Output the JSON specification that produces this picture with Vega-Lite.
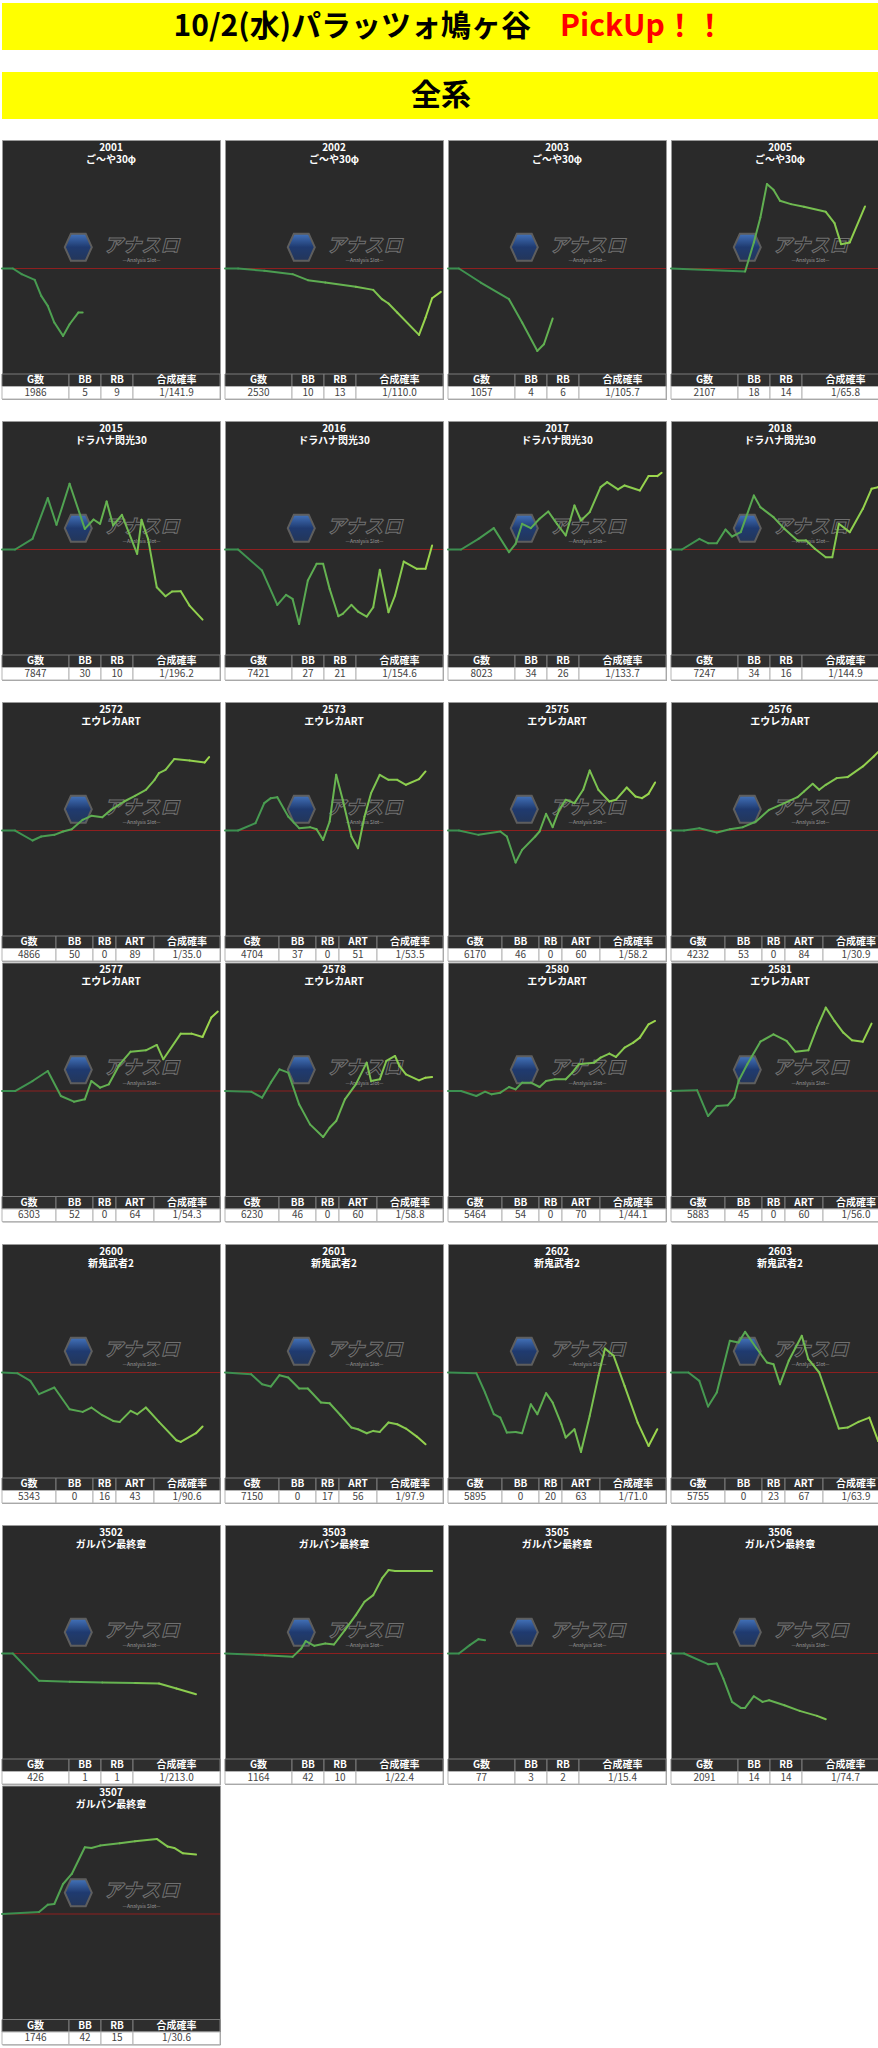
{
"$schema": "https://vega.github.io/schema/vega-lite/v6.json",
"padding": {"left": 0, "right": 0, "top": 3, "bottom": 0},
"background": "#ffffff",
"spacing": 20,
"config": {"font": "Noto Sans CJK JP", "text": {"font": "Noto Sans CJK JP"}, "view": {"stroke": null},
 "header": {"labels": false, "title": null, "labelPadding": 0, "titlePadding": 0}},
"datasets": {
"panels": [
{"id":"2001","name":"ご〜や30φ","row":1,"G数":1986,"BB":5,"RB":9,"合成確率":"1/141.9"},
{"id":"2002","name":"ご〜や30φ","row":1,"G数":2530,"BB":10,"RB":13,"合成確率":"1/110.0"},
{"id":"2003","name":"ご〜や30φ","row":1,"G数":1057,"BB":4,"RB":6,"合成確率":"1/105.7"},
{"id":"2005","name":"ご〜や30φ","row":1,"G数":2107,"BB":18,"RB":14,"合成確率":"1/65.8"},
{"id":"2015","name":"ドラハナ閃光30","row":2,"G数":7847,"BB":30,"RB":10,"合成確率":"1/196.2"},
{"id":"2016","name":"ドラハナ閃光30","row":2,"G数":7421,"BB":27,"RB":21,"合成確率":"1/154.6"},
{"id":"2017","name":"ドラハナ閃光30","row":2,"G数":8023,"BB":34,"RB":26,"合成確率":"1/133.7"},
{"id":"2018","name":"ドラハナ閃光30","row":2,"G数":7247,"BB":34,"RB":16,"合成確率":"1/144.9"},
{"id":"2572","name":"エウレカART","row":3,"G数":4866,"BB":50,"RB":0,"ART":89,"合成確率":"1/35.0"},
{"id":"2573","name":"エウレカART","row":3,"G数":4704,"BB":37,"RB":0,"ART":51,"合成確率":"1/53.5"},
{"id":"2575","name":"エウレカART","row":3,"G数":6170,"BB":46,"RB":0,"ART":60,"合成確率":"1/58.2"},
{"id":"2576","name":"エウレカART","row":3,"G数":4232,"BB":53,"RB":0,"ART":84,"合成確率":"1/30.9"},
{"id":"2577","name":"エウレカART","row":4,"G数":6303,"BB":52,"RB":0,"ART":64,"合成確率":"1/54.3"},
{"id":"2578","name":"エウレカART","row":4,"G数":6230,"BB":46,"RB":0,"ART":60,"合成確率":"1/58.8"},
{"id":"2580","name":"エウレカART","row":4,"G数":5464,"BB":54,"RB":0,"ART":70,"合成確率":"1/44.1"},
{"id":"2581","name":"エウレカART","row":4,"G数":5883,"BB":45,"RB":0,"ART":60,"合成確率":"1/56.0"},
{"id":"2600","name":"新鬼武者2","row":5,"G数":5343,"BB":0,"RB":16,"ART":43,"合成確率":"1/90.6"},
{"id":"2601","name":"新鬼武者2","row":5,"G数":7150,"BB":0,"RB":17,"ART":56,"合成確率":"1/97.9"},
{"id":"2602","name":"新鬼武者2","row":5,"G数":5895,"BB":0,"RB":20,"ART":63,"合成確率":"1/71.0"},
{"id":"2603","name":"新鬼武者2","row":5,"G数":5755,"BB":0,"RB":23,"ART":67,"合成確率":"1/63.9"},
{"id":"3502","name":"ガルパン最終章","row":6,"G数":426,"BB":1,"RB":1,"合成確率":"1/213.0"},
{"id":"3503","name":"ガルパン最終章","row":6,"G数":1164,"BB":42,"RB":10,"合成確率":"1/22.4"},
{"id":"3505","name":"ガルパン最終章","row":6,"G数":77,"BB":3,"RB":2,"合成確率":"1/15.4"},
{"id":"3506","name":"ガルパン最終章","row":6,"G数":2091,"BB":14,"RB":14,"合成確率":"1/74.7"},
{"id":"3507","name":"ガルパン最終章","row":7,"G数":1746,"BB":42,"RB":15,"合成確率":"1/30.6"}
],
"pts": [
{"id":"2001","t":0,"v":0},{"id":"2001","t":5,"v":0},{"id":"2001","t":9,"v":-226},{"id":"2001","t":15,"v":-452},{"id":"2001","t":18,"v":-1090},{"id":"2001","t":21,"v":-1488},{"id":"2001","t":24,"v":-2152},{"id":"2001","t":28,"v":-2683},{"id":"2001","t":31,"v":-2218},{"id":"2001","t":35,"v":-1753},{"id":"2001","t":37,"v":-1753},
{"id":"2002","t":0,"v":0},{"id":"2002","t":6,"v":0},{"id":"2002","t":18,"v":-93},{"id":"2002","t":31,"v":-226},{"id":"2002","t":38,"v":-465},{"id":"2002","t":46,"v":-558},{"id":"2002","t":60,"v":-730},{"id":"2002","t":68,"v":-850},{"id":"2002","t":72,"v":-1222},{"id":"2002","t":75,"v":-1394},{"id":"2002","t":79,"v":-1753},{"id":"2002","t":89,"v":-2643},{"id":"2002","t":92,"v":-1952},{"id":"2002","t":95,"v":-1182},{"id":"2002","t":99,"v":-930},
{"id":"2003","t":0,"v":0},{"id":"2003","t":5,"v":0},{"id":"2003","t":15,"v":-558},{"id":"2003","t":28,"v":-1222},{"id":"2003","t":34,"v":-2152},{"id":"2003","t":41,"v":-3280},{"id":"2003","t":44,"v":-3015},{"id":"2003","t":48,"v":-1992},
{"id":"2005","t":0,"v":0},{"id":"2005","t":34,"v":-120},{"id":"2005","t":38,"v":1036},{"id":"2005","t":41,"v":2032},{"id":"2005","t":44,"v":3360},{"id":"2005","t":47,"v":3134},{"id":"2005","t":50,"v":2696},{"id":"2005","t":55,"v":2563},{"id":"2005","t":61,"v":2457},{"id":"2005","t":71,"v":2258},{"id":"2005","t":75,"v":1806},{"id":"2005","t":78,"v":969},{"id":"2005","t":82,"v":1036},{"id":"2005","t":89,"v":2470},
{"id":"2015","t":0,"v":0},{"id":"2015","t":6,"v":0},{"id":"2015","t":14,"v":425},{"id":"2015","t":21,"v":2045},{"id":"2015","t":25,"v":983},{"id":"2015","t":31,"v":2616},{"id":"2015","t":38,"v":823},{"id":"2015","t":42,"v":1195},{"id":"2015","t":45,"v":1023},{"id":"2015","t":48,"v":1912},{"id":"2015","t":51,"v":956},{"id":"2015","t":55,"v":1381},{"id":"2015","t":62,"v":-173},{"id":"2015","t":64,"v":1182},{"id":"2015","t":67,"v":425},{"id":"2015","t":71,"v":-1501},{"id":"2015","t":75,"v":-1859},{"id":"2015","t":78,"v":-1673},{"id":"2015","t":82,"v":-1660},{"id":"2015","t":86,"v":-2231},{"id":"2015","t":92,"v":-2789},
{"id":"2016","t":0,"v":0},{"id":"2016","t":6,"v":0},{"id":"2016","t":17,"v":-837},{"id":"2016","t":24,"v":-2205},{"id":"2016","t":28,"v":-1806},{"id":"2016","t":31,"v":-1966},{"id":"2016","t":34,"v":-2962},{"id":"2016","t":38,"v":-1235},{"id":"2016","t":42,"v":-571},{"id":"2016","t":45,"v":-571},{"id":"2016","t":48,"v":-1567},{"id":"2016","t":52,"v":-2656},{"id":"2016","t":54,"v":-2563},{"id":"2016","t":58,"v":-2205},{"id":"2016","t":61,"v":-2470},{"id":"2016","t":65,"v":-2669},{"id":"2016","t":68,"v":-2297},{"id":"2016","t":71,"v":-810},{"id":"2016","t":75,"v":-2497},{"id":"2016","t":78,"v":-1833},{"id":"2016","t":82,"v":-478},{"id":"2016","t":88,"v":-770},{"id":"2016","t":92,"v":-770},{"id":"2016","t":95,"v":159},
{"id":"2017","t":0,"v":0},{"id":"2017","t":6,"v":0},{"id":"2017","t":14,"v":425},{"id":"2017","t":21,"v":850},{"id":"2017","t":28,"v":-106},{"id":"2017","t":31,"v":226},{"id":"2017","t":34,"v":1023},{"id":"2017","t":38,"v":850},{"id":"2017","t":42,"v":1222},{"id":"2017","t":46,"v":1514},{"id":"2017","t":50,"v":1023},{"id":"2017","t":54,"v":558},{"id":"2017","t":58,"v":1753},{"id":"2017","t":61,"v":1155},{"id":"2017","t":65,"v":1487},{"id":"2017","t":70,"v":2483},{"id":"2017","t":73,"v":2683},{"id":"2017","t":78,"v":2391},{"id":"2017","t":81,"v":2550},{"id":"2017","t":88,"v":2350},{"id":"2017","t":92,"v":2922},{"id":"2017","t":96,"v":2922},{"id":"2017","t":98,"v":3054},
{"id":"2018","t":0,"v":0},{"id":"2018","t":5,"v":0},{"id":"2018","t":13,"v":425},{"id":"2018","t":17,"v":252},{"id":"2018","t":21,"v":252},{"id":"2018","t":25,"v":797},{"id":"2018","t":28,"v":518},{"id":"2018","t":32,"v":691},{"id":"2018","t":38,"v":2151},{"id":"2018","t":41,"v":1687},{"id":"2018","t":47,"v":1288},{"id":"2018","t":52,"v":823},{"id":"2018","t":58,"v":359},{"id":"2018","t":62,"v":359},{"id":"2018","t":66,"v":27},{"id":"2018","t":71,"v":-305},{"id":"2018","t":74,"v":-305},{"id":"2018","t":77,"v":1023},{"id":"2018","t":82,"v":691},{"id":"2018","t":88,"v":1620},{"id":"2018","t":92,"v":2417},{"id":"2018","t":95,"v":2483},{"id":"2018","t":98,"v":2258},
{"id":"2572","t":0,"v":0},{"id":"2572","t":6,"v":0},{"id":"2572","t":14,"v":-398},{"id":"2572","t":18,"v":-239},{"id":"2572","t":24,"v":-173},{"id":"2572","t":28,"v":-40},{"id":"2572","t":32,"v":53},{"id":"2572","t":37,"v":425},{"id":"2572","t":41,"v":584},{"id":"2572","t":46,"v":531},{"id":"2572","t":50,"v":823},{"id":"2572","t":56,"v":1155},{"id":"2572","t":61,"v":1381},{"id":"2572","t":66,"v":1620},{"id":"2572","t":70,"v":2019},{"id":"2572","t":72,"v":2284},{"id":"2572","t":75,"v":2417},{"id":"2572","t":79,"v":2842},{"id":"2572","t":86,"v":2789},{"id":"2572","t":93,"v":2709},{"id":"2572","t":95,"v":2922},
{"id":"2573","t":0,"v":0},{"id":"2573","t":6,"v":0},{"id":"2573","t":14,"v":292},{"id":"2573","t":18,"v":1089},{"id":"2573","t":21,"v":1288},{"id":"2573","t":24,"v":1328},{"id":"2573","t":29,"v":558},{"id":"2573","t":34,"v":93},{"id":"2573","t":39,"v":133},{"id":"2573","t":42,"v":53},{"id":"2573","t":45,"v":-372},{"id":"2573","t":48,"v":359},{"id":"2573","t":51,"v":2218},{"id":"2573","t":54,"v":1222},{"id":"2573","t":58,"v":-239},{"id":"2573","t":61,"v":-704},{"id":"2573","t":64,"v":558},{"id":"2573","t":67,"v":1487},{"id":"2573","t":71,"v":2218},{"id":"2573","t":75,"v":2019},{"id":"2573","t":79,"v":2019},{"id":"2573","t":83,"v":1820},{"id":"2573","t":89,"v":2045},{"id":"2573","t":92,"v":2350},
{"id":"2575","t":0,"v":0},{"id":"2575","t":5,"v":0},{"id":"2575","t":14,"v":-173},{"id":"2575","t":24,"v":-40},{"id":"2575","t":27,"v":-239},{"id":"2575","t":31,"v":-1275},{"id":"2575","t":34,"v":-770},{"id":"2575","t":40,"v":-239},{"id":"2575","t":42,"v":-40},{"id":"2575","t":45,"v":664},{"id":"2575","t":48,"v":133},{"id":"2575","t":51,"v":823},{"id":"2575","t":54,"v":1222},{"id":"2575","t":58,"v":1089},{"id":"2575","t":62,"v":1620},{"id":"2575","t":65,"v":2390},{"id":"2575","t":69,"v":1620},{"id":"2575","t":74,"v":1155},{"id":"2575","t":77,"v":1222},{"id":"2575","t":82,"v":1713},{"id":"2575","t":86,"v":1355},{"id":"2575","t":89,"v":1288},{"id":"2575","t":92,"v":1461},{"id":"2575","t":95,"v":1912},
{"id":"2576","t":0,"v":0},{"id":"2576","t":6,"v":0},{"id":"2576","t":13,"v":93},{"id":"2576","t":21,"v":-80},{"id":"2576","t":27,"v":53},{"id":"2576","t":33,"v":133},{"id":"2576","t":39,"v":359},{"id":"2576","t":45,"v":823},{"id":"2576","t":52,"v":1089},{"id":"2576","t":58,"v":1328},{"id":"2576","t":61,"v":1554},{"id":"2576","t":65,"v":1859},{"id":"2576","t":68,"v":1620},{"id":"2576","t":71,"v":1820},{"id":"2576","t":76,"v":2085},{"id":"2576","t":81,"v":2125},{"id":"2576","t":88,"v":2550},{"id":"2576","t":93,"v":2948},{"id":"2576","t":96,"v":3214},{"id":"2576","t":98,"v":3280},
{"id":"2577","t":0,"v":0},{"id":"2577","t":6,"v":0},{"id":"2577","t":14,"v":398},{"id":"2577","t":21,"v":797},{"id":"2577","t":27,"v":-199},{"id":"2577","t":33,"v":-425},{"id":"2577","t":38,"v":-332},{"id":"2577","t":41,"v":398},{"id":"2577","t":45,"v":133},{"id":"2577","t":49,"v":266},{"id":"2577","t":54,"v":1062},{"id":"2577","t":59,"v":1567},{"id":"2577","t":66,"v":1620},{"id":"2577","t":71,"v":1833},{"id":"2577","t":74,"v":1262},{"id":"2577","t":82,"v":2284},{"id":"2577","t":87,"v":2284},{"id":"2577","t":92,"v":2151},{"id":"2577","t":96,"v":2922},{"id":"2577","t":99,"v":3161},
{"id":"2578","t":0,"v":0},{"id":"2578","t":12,"v":-27},{"id":"2578","t":17,"v":-266},{"id":"2578","t":21,"v":332},{"id":"2578","t":25,"v":863},{"id":"2578","t":29,"v":730},{"id":"2578","t":34,"v":-531},{"id":"2578","t":39,"v":-1328},{"id":"2578","t":45,"v":-1833},{"id":"2578","t":48,"v":-1461},{"id":"2578","t":51,"v":-1195},{"id":"2578","t":55,"v":-332},{"id":"2578","t":60,"v":266},{"id":"2578","t":65,"v":1129},{"id":"2578","t":67,"v":398},{"id":"2578","t":71,"v":465},{"id":"2578","t":74,"v":1195},{"id":"2578","t":78,"v":1394},{"id":"2578","t":80,"v":996},{"id":"2578","t":83,"v":664},{"id":"2578","t":89,"v":425},{"id":"2578","t":92,"v":531},{"id":"2578","t":95,"v":558},
{"id":"2580","t":0,"v":0},{"id":"2580","t":6,"v":0},{"id":"2580","t":13,"v":-199},{"id":"2580","t":17,"v":-27},{"id":"2580","t":20,"v":-133},{"id":"2580","t":24,"v":-66},{"id":"2580","t":28,"v":159},{"id":"2580","t":31,"v":66},{"id":"2580","t":34,"v":332},{"id":"2580","t":38,"v":332},{"id":"2580","t":42,"v":159},{"id":"2580","t":45,"v":398},{"id":"2580","t":49,"v":465},{"id":"2580","t":54,"v":465},{"id":"2580","t":57,"v":730},{"id":"2580","t":60,"v":1062},{"id":"2580","t":67,"v":1129},{"id":"2580","t":70,"v":1328},{"id":"2580","t":74,"v":1487},{"id":"2580","t":77,"v":1355},{"id":"2580","t":81,"v":1727},{"id":"2580","t":85,"v":1926},{"id":"2580","t":88,"v":2125},{"id":"2580","t":92,"v":2656},{"id":"2580","t":95,"v":2789},
{"id":"2581","t":0,"v":0},{"id":"2581","t":12,"v":27},{"id":"2581","t":17,"v":-996},{"id":"2581","t":21,"v":-598},{"id":"2581","t":26,"v":-571},{"id":"2581","t":29,"v":-266},{"id":"2581","t":31,"v":398},{"id":"2581","t":35,"v":1062},{"id":"2581","t":41,"v":1965},{"id":"2581","t":47,"v":2258},{"id":"2581","t":53,"v":1992},{"id":"2581","t":57,"v":1567},{"id":"2581","t":63,"v":1620},{"id":"2581","t":67,"v":2523},{"id":"2581","t":71,"v":3320},{"id":"2581","t":75,"v":2789},{"id":"2581","t":79,"v":2324},{"id":"2581","t":83,"v":2019},{"id":"2581","t":88,"v":1965},{"id":"2581","t":92,"v":2683},
{"id":"2600","t":0,"v":0},{"id":"2600","t":7,"v":-27},{"id":"2600","t":13,"v":-332},{"id":"2600","t":17,"v":-863},{"id":"2600","t":24,"v":-598},{"id":"2600","t":31,"v":-1461},{"id":"2600","t":37,"v":-1567},{"id":"2600","t":41,"v":-1394},{"id":"2600","t":46,"v":-1700},{"id":"2600","t":51,"v":-1926},{"id":"2600","t":54,"v":-1966},{"id":"2600","t":59,"v":-1527},{"id":"2600","t":62,"v":-1660},{"id":"2600","t":66,"v":-1394},{"id":"2600","t":72,"v":-1966},{"id":"2600","t":80,"v":-2696},{"id":"2600","t":82,"v":-2762},{"id":"2600","t":89,"v":-2417},{"id":"2600","t":92,"v":-2151},
{"id":"2601","t":0,"v":0},{"id":"2601","t":12,"v":-66},{"id":"2601","t":17,"v":-465},{"id":"2601","t":21,"v":-558},{"id":"2601","t":25,"v":-106},{"id":"2601","t":29,"v":-199},{"id":"2601","t":34,"v":-637},{"id":"2601","t":38,"v":-637},{"id":"2601","t":44,"v":-1195},{"id":"2601","t":48,"v":-1222},{"id":"2601","t":53,"v":-1700},{"id":"2601","t":58,"v":-2191},{"id":"2601","t":61,"v":-2258},{"id":"2601","t":65,"v":-2417},{"id":"2601","t":68,"v":-2324},{"id":"2601","t":71,"v":-2364},{"id":"2601","t":75,"v":-1992},{"id":"2601","t":79,"v":-2059},{"id":"2601","t":83,"v":-2231},{"id":"2601","t":88,"v":-2550},{"id":"2601","t":92,"v":-2855},
{"id":"2602","t":0,"v":0},{"id":"2602","t":13,"v":-27},{"id":"2602","t":17,"v":-797},{"id":"2602","t":21,"v":-1660},{"id":"2602","t":24,"v":-1793},{"id":"2602","t":27,"v":-2391},{"id":"2602","t":31,"v":-2364},{"id":"2602","t":34,"v":-2417},{"id":"2602","t":38,"v":-1262},{"id":"2602","t":41,"v":-1660},{"id":"2602","t":45,"v":-823},{"id":"2602","t":48,"v":-1195},{"id":"2602","t":52,"v":-2059},{"id":"2602","t":54,"v":-2590},{"id":"2602","t":58,"v":-2258},{"id":"2602","t":61,"v":-3161},{"id":"2602","t":65,"v":-1727},{"id":"2602","t":69,"v":-133},{"id":"2602","t":72,"v":956},{"id":"2602","t":76,"v":664},{"id":"2602","t":81,"v":-531},{"id":"2602","t":87,"v":-1992},{"id":"2602","t":92,"v":-2922},{"id":"2602","t":96,"v":-2258},
{"id":"2603","t":0,"v":0},{"id":"2603","t":8,"v":0},{"id":"2603","t":13,"v":-332},{"id":"2603","t":17,"v":-1355},{"id":"2603","t":21,"v":-797},{"id":"2603","t":27,"v":1262},{"id":"2603","t":31,"v":1195},{"id":"2603","t":34,"v":1620},{"id":"2603","t":39,"v":996},{"id":"2603","t":44,"v":398},{"id":"2603","t":47,"v":332},{"id":"2603","t":50,"v":-465},{"id":"2603","t":54,"v":465},{"id":"2603","t":60,"v":1461},{"id":"2603","t":63,"v":531},{"id":"2603","t":68,"v":0},{"id":"2603","t":77,"v":-2231},{"id":"2603","t":81,"v":-2191},{"id":"2603","t":86,"v":-1966},{"id":"2603","t":91,"v":-1793},{"id":"2603","t":95,"v":-2722},{"id":"2603","t":98,"v":-2324},
{"id":"3502","t":0,"v":0},{"id":"3502","t":5,"v":0},{"id":"3502","t":17,"v":-1089},{"id":"3502","t":31,"v":-1129},{"id":"3502","t":46,"v":-1155},{"id":"3502","t":61,"v":-1169},{"id":"3502","t":72,"v":-1195},{"id":"3502","t":80,"v":-1394},{"id":"3502","t":89,"v":-1620},
{"id":"3503","t":0,"v":0},{"id":"3503","t":18,"v":-66},{"id":"3503","t":31,"v":-133},{"id":"3503","t":35,"v":199},{"id":"3503","t":37,"v":491},{"id":"3503","t":41,"v":305},{"id":"3503","t":46,"v":398},{"id":"3503","t":50,"v":359},{"id":"3503","t":55,"v":929},{"id":"3503","t":60,"v":1527},{"id":"3503","t":64,"v":2059},{"id":"3503","t":68,"v":2324},{"id":"3503","t":72,"v":2988},{"id":"3503","t":75,"v":3320},{"id":"3503","t":78,"v":3280},{"id":"3503","t":95,"v":3280},
{"id":"3505","t":0,"v":0},{"id":"3505","t":5,"v":0},{"id":"3505","t":10,"v":332},{"id":"3505","t":14,"v":571},{"id":"3505","t":17,"v":531},
{"id":"3506","t":0,"v":0},{"id":"3506","t":6,"v":0},{"id":"3506","t":17,"v":-425},{"id":"3506","t":21,"v":-398},{"id":"3506","t":24,"v":-996},{"id":"3506","t":28,"v":-1926},{"id":"3506","t":32,"v":-2165},{"id":"3506","t":34,"v":-2165},{"id":"3506","t":38,"v":-1700},{"id":"3506","t":42,"v":-1926},{"id":"3506","t":45,"v":-1859},{"id":"3506","t":52,"v":-2059},{"id":"3506","t":59,"v":-2284},{"id":"3506","t":67,"v":-2483},{"id":"3506","t":71,"v":-2616},
{"id":"3507","t":0,"v":0},{"id":"3507","t":17,"v":80},{"id":"3507","t":21,"v":372},{"id":"3507","t":24,"v":398},{"id":"3507","t":28,"v":1195},{"id":"3507","t":32,"v":1594},{"id":"3507","t":38,"v":2656},{"id":"3507","t":41,"v":2630},{"id":"3507","t":45,"v":2723},{"id":"3507","t":54,"v":2815},{"id":"3507","t":61,"v":2895},{"id":"3507","t":71,"v":2988},{"id":"3507","t":76,"v":2683},{"id":"3507","t":79,"v":2630},{"id":"3507","t":83,"v":2417},{"id":"3507","t":89,"v":2364}
]
},
"vconcat": [
{"spacing": 22, "vconcat": [
{"width": 878, "height": 47, "view": {"fill": "#ffff00", "stroke": null},
 "data": {"values": [{"a": "10/2(水)パラッツォ鳩ヶ谷", "b": "PickUp！！"}]},
 "layer": [
  {"mark": {"type": "text", "align": "right", "baseline": "middle", "dx": 90, "fontSize": 30, "fontWeight": "bold", "fill": "#000000"}, "encoding": {"text": {"field": "a", "type": "nominal"}}},
  {"mark": {"type": "text", "align": "left", "baseline": "middle", "dx": 119, "fontSize": 30, "fontWeight": "bold", "fill": "#ff0000"}, "encoding": {"text": {"field": "b", "type": "nominal"}}}
 ]},
{"width": 878, "height": 47, "view": {"fill": "#ffff00", "stroke": null},
 "data": {"values": [{"a": "全系"}]},
 "mark": {"type": "text", "baseline": "middle", "fontSize": 30, "fontWeight": "bold", "fill": "#000000"},
 "encoding": {"text": {"field": "a", "type": "nominal"}}}
]},
{"data": {"name": "pts"},
 "transform": [{"lookup": "id", "from": {"data": {"name": "panels"}, "key": "id", "fields": ["name", "row", "G数", "BB", "RB", "ART", "合成確率"]}}, {"filter": "datum.row == 1"}, {"window": [{"op": "lead", "field": "t", "as": "t2"}, {"op": "lead", "field": "v", "as": "v2"}], "groupby": ["id"], "sort": [{"field": "t"}]}],
 "facet": {"column": {"field": "id", "type": "nominal", "title": null, "header": {"labels": false, "title": null}}}, "spacing": 2,
 "spec": {"width": 218, "height": 259, "view": {"fill": "#2a2a2a", "stroke": "#9a9a9a"}, "resolve": {"scale": {"x": "independent"}},
  "layer": [
   {"transform": [{"filter": "datum.t == 0"}], "mark": {"type": "point", "shape": "M-1,0L-0.55,-1L0.55,-1L1,0L0.55,1L-0.55,1Z", "size": 729, "filled": true, "fill": {"gradient": "linear", "x1": 0, "y1": 0, "x2": 0, "y2": 1, "stops": [{"offset": 0, "color": "#4a86e0"}, {"offset": 0.5, "color": "#1d3f82"}, {"offset": 1, "color": "#233a66"}]}, "stroke": "#6c6c6c", "strokeWidth": 2, "opacity": 0.8}, "encoding": {"x": {"datum": 35, "type": "quantitative", "scale": {"domain": [0, 100], "nice": false, "zero": false}, "axis": null}, "y": {"datum": 850, "type": "quantitative", "scale": {"domain": [-5194, 5115], "nice": false, "zero": false}, "axis": null}}},
   {"transform": [{"filter": "datum.t == 0"}], "mark": {"type": "text", "text": "アナスロ", "fontSize": 19, "fontWeight": "bold", "fontStyle": "italic", "fill": "#242424", "stroke": "#707070", "strokeWidth": 1}, "encoding": {"x": {"datum": 64, "type": "quantitative", "scale": {"domain": [0, 100], "nice": false, "zero": false}, "axis": null}, "y": {"datum": 900, "type": "quantitative", "scale": {"domain": [-5194, 5115], "nice": false, "zero": false}, "axis": null}}},
   {"transform": [{"filter": "datum.t == 0"}], "mark": {"type": "text", "text": "—Analysis Slot—", "fontSize": 5, "fill": "#9a9a9a"}, "encoding": {"x": {"datum": 64, "type": "quantitative", "scale": {"domain": [0, 100], "nice": false, "zero": false}, "axis": null}, "y": {"datum": 330, "type": "quantitative", "scale": {"domain": [-5194, 5115], "nice": false, "zero": false}, "axis": null}}},
   {"transform": [{"filter": "datum.t == 0"}], "mark": {"type": "rule", "color": "#8e1f1f", "strokeWidth": 1}, "encoding": {"y": {"datum": 0, "type": "quantitative", "scale": {"domain": [-5194, 5115], "nice": false, "zero": false}, "axis": null}}},
   {"transform": [{"filter": "datum.t2 != null"}], "mark": {"type": "rule", "strokeWidth": 2, "strokeCap": "round"}, "encoding": {"x": {"field": "t", "type": "quantitative", "scale": {"domain": [0, 100], "nice": false, "zero": false}, "axis": null}, "x2": {"field": "t2"}, "y": {"field": "v", "type": "quantitative", "scale": {"domain": [-5194, 5115], "nice": false, "zero": false}, "axis": {"values": [-4000, -3000, -2000, -1000, 0, 1000, 2000, 3000, 4000], "grid": true, "gridColor": "#474747", "labels": false, "ticks": false, "domain": false, "title": null}}, "y2": {"field": "v2"}, "color": {"field": "t", "type": "quantitative", "scale": {"domain": [0, 100], "range": ["#3b8f50", "#a6dc4c"]}, "legend": null}}},
   {"transform": [{"filter": "datum.t == 0"}], "mark": {"type": "text", "fill": "#ffffff", "fontSize": 10, "fontWeight": "bold"}, "encoding": {"x": {"datum": 50, "type": "quantitative", "scale": {"domain": [0, 100], "nice": false, "zero": false}, "axis": null}, "y": {"datum": 4797, "type": "quantitative", "scale": {"domain": [-5194, 5115], "nice": false, "zero": false}, "axis": null}, "text": {"field": "id", "type": "nominal"}}},
   {"transform": [{"filter": "datum.t == 0"}], "mark": {"type": "text", "fill": "#ffffff", "fontSize": 10, "fontWeight": "bold"}, "encoding": {"x": {"datum": 50, "type": "quantitative", "scale": {"domain": [0, 100], "nice": false, "zero": false}, "axis": null}, "y": {"datum": 4319, "type": "quantitative", "scale": {"domain": [-5194, 5115], "nice": false, "zero": false}, "axis": null}, "text": {"field": "name", "type": "nominal"}}},
   {"transform": [{"filter": "datum.t == 0"}, {"fold": ["G数", "BB", "RB", "合成確率"]}, {"calculate": "indexof(['G数','BB','RB','合成確率'], datum.key)", "as": "i"}, {"calculate": "datum.i + 1", "as": "i2"}], "mark": {"type": "rect", "fill": "#2e2e2e", "stroke": "#7a7a7a", "strokeWidth": 1}, "encoding": {"x": {"field": "i", "type": "quantitative", "scale": {"domain": [0, 1, 2, 3, 4], "range": [0, 67, 99, 131, 218], "nice": false, "zero": false}, "axis": null}, "x2": {"field": "i2"}, "y": {"datum": -4199, "type": "quantitative", "scale": {"domain": [-5194, 5115], "nice": false, "zero": false}, "axis": null}, "y2": {"datum": -4696}}},
   {"transform": [{"filter": "datum.t == 0"}, {"fold": ["G数", "BB", "RB", "合成確率"]}, {"calculate": "indexof(['G数','BB','RB','合成確率'], datum.key)", "as": "i"}, {"calculate": "datum.i + 1", "as": "i2"}], "mark": {"type": "rect", "fill": "#ffffff", "stroke": "#b5b5b5", "strokeWidth": 1}, "encoding": {"x": {"field": "i", "type": "quantitative", "scale": {"domain": [0, 1, 2, 3, 4], "range": [0, 67, 99, 131, 218], "nice": false, "zero": false}, "axis": null}, "x2": {"field": "i2"}, "y": {"datum": -4696, "type": "quantitative", "scale": {"domain": [-5194, 5115], "nice": false, "zero": false}, "axis": null}, "y2": {"datum": -5194}}},
   {"transform": [{"filter": "datum.t == 0"}, {"fold": ["G数", "BB", "RB", "合成確率"]}, {"calculate": "indexof(['G数','BB','RB','合成確率'], datum.key) + 0.5", "as": "im"}], "mark": {"type": "text", "fill": "#ffffff", "fontSize": 10, "fontWeight": "bold"}, "encoding": {"x": {"field": "im", "type": "quantitative", "scale": {"domain": [0, 1, 2, 3, 4], "range": [0, 67, 99, 131, 218], "nice": false, "zero": false}, "axis": null}, "y": {"datum": -4448, "type": "quantitative", "scale": {"domain": [-5194, 5115], "nice": false, "zero": false}, "axis": null}, "text": {"field": "key", "type": "nominal"}}},
   {"transform": [{"filter": "datum.t == 0"}, {"fold": ["G数", "BB", "RB", "合成確率"]}, {"calculate": "indexof(['G数','BB','RB','合成確率'], datum.key) + 0.5", "as": "im"}], "mark": {"type": "text", "fill": "#444444", "fontSize": 10}, "encoding": {"x": {"field": "im", "type": "quantitative", "scale": {"domain": [0, 1, 2, 3, 4], "range": [0, 67, 99, 131, 218], "nice": false, "zero": false}, "axis": null}, "y": {"datum": -4945, "type": "quantitative", "scale": {"domain": [-5194, 5115], "nice": false, "zero": false}, "axis": null}, "text": {"field": "value", "type": "nominal"}}}
  ]}},
{"data": {"name": "pts"},
 "transform": [{"lookup": "id", "from": {"data": {"name": "panels"}, "key": "id", "fields": ["name", "row", "G数", "BB", "RB", "ART", "合成確率"]}}, {"filter": "datum.row == 2"}, {"window": [{"op": "lead", "field": "t", "as": "t2"}, {"op": "lead", "field": "v", "as": "v2"}], "groupby": ["id"], "sort": [{"field": "t"}]}],
 "facet": {"column": {"field": "id", "type": "nominal", "title": null, "header": {"labels": false, "title": null}}}, "spacing": 2,
 "spec": {"width": 218, "height": 259, "view": {"fill": "#2a2a2a", "stroke": "#9a9a9a"}, "resolve": {"scale": {"x": "independent"}},
  "layer": [
   {"transform": [{"filter": "datum.t == 0"}], "mark": {"type": "point", "shape": "M-1,0L-0.55,-1L0.55,-1L1,0L0.55,1L-0.55,1Z", "size": 729, "filled": true, "fill": {"gradient": "linear", "x1": 0, "y1": 0, "x2": 0, "y2": 1, "stops": [{"offset": 0, "color": "#4a86e0"}, {"offset": 0.5, "color": "#1d3f82"}, {"offset": 1, "color": "#233a66"}]}, "stroke": "#6c6c6c", "strokeWidth": 2, "opacity": 0.8}, "encoding": {"x": {"datum": 35, "type": "quantitative", "scale": {"domain": [0, 100], "nice": false, "zero": false}, "axis": null}, "y": {"datum": 850, "type": "quantitative", "scale": {"domain": [-5194, 5115], "nice": false, "zero": false}, "axis": null}}},
   {"transform": [{"filter": "datum.t == 0"}], "mark": {"type": "text", "text": "アナスロ", "fontSize": 19, "fontWeight": "bold", "fontStyle": "italic", "fill": "#242424", "stroke": "#707070", "strokeWidth": 1}, "encoding": {"x": {"datum": 64, "type": "quantitative", "scale": {"domain": [0, 100], "nice": false, "zero": false}, "axis": null}, "y": {"datum": 900, "type": "quantitative", "scale": {"domain": [-5194, 5115], "nice": false, "zero": false}, "axis": null}}},
   {"transform": [{"filter": "datum.t == 0"}], "mark": {"type": "text", "text": "—Analysis Slot—", "fontSize": 5, "fill": "#9a9a9a"}, "encoding": {"x": {"datum": 64, "type": "quantitative", "scale": {"domain": [0, 100], "nice": false, "zero": false}, "axis": null}, "y": {"datum": 330, "type": "quantitative", "scale": {"domain": [-5194, 5115], "nice": false, "zero": false}, "axis": null}}},
   {"transform": [{"filter": "datum.t == 0"}], "mark": {"type": "rule", "color": "#8e1f1f", "strokeWidth": 1}, "encoding": {"y": {"datum": 0, "type": "quantitative", "scale": {"domain": [-5194, 5115], "nice": false, "zero": false}, "axis": null}}},
   {"transform": [{"filter": "datum.t2 != null"}], "mark": {"type": "rule", "strokeWidth": 2, "strokeCap": "round"}, "encoding": {"x": {"field": "t", "type": "quantitative", "scale": {"domain": [0, 100], "nice": false, "zero": false}, "axis": null}, "x2": {"field": "t2"}, "y": {"field": "v", "type": "quantitative", "scale": {"domain": [-5194, 5115], "nice": false, "zero": false}, "axis": {"values": [-4000, -3000, -2000, -1000, 0, 1000, 2000, 3000, 4000], "grid": true, "gridColor": "#474747", "labels": false, "ticks": false, "domain": false, "title": null}}, "y2": {"field": "v2"}, "color": {"field": "t", "type": "quantitative", "scale": {"domain": [0, 100], "range": ["#3b8f50", "#a6dc4c"]}, "legend": null}}},
   {"transform": [{"filter": "datum.t == 0"}], "mark": {"type": "text", "fill": "#ffffff", "fontSize": 10, "fontWeight": "bold"}, "encoding": {"x": {"datum": 50, "type": "quantitative", "scale": {"domain": [0, 100], "nice": false, "zero": false}, "axis": null}, "y": {"datum": 4797, "type": "quantitative", "scale": {"domain": [-5194, 5115], "nice": false, "zero": false}, "axis": null}, "text": {"field": "id", "type": "nominal"}}},
   {"transform": [{"filter": "datum.t == 0"}], "mark": {"type": "text", "fill": "#ffffff", "fontSize": 10, "fontWeight": "bold"}, "encoding": {"x": {"datum": 50, "type": "quantitative", "scale": {"domain": [0, 100], "nice": false, "zero": false}, "axis": null}, "y": {"datum": 4319, "type": "quantitative", "scale": {"domain": [-5194, 5115], "nice": false, "zero": false}, "axis": null}, "text": {"field": "name", "type": "nominal"}}},
   {"transform": [{"filter": "datum.t == 0"}, {"fold": ["G数", "BB", "RB", "合成確率"]}, {"calculate": "indexof(['G数','BB','RB','合成確率'], datum.key)", "as": "i"}, {"calculate": "datum.i + 1", "as": "i2"}], "mark": {"type": "rect", "fill": "#2e2e2e", "stroke": "#7a7a7a", "strokeWidth": 1}, "encoding": {"x": {"field": "i", "type": "quantitative", "scale": {"domain": [0, 1, 2, 3, 4], "range": [0, 67, 99, 131, 218], "nice": false, "zero": false}, "axis": null}, "x2": {"field": "i2"}, "y": {"datum": -4199, "type": "quantitative", "scale": {"domain": [-5194, 5115], "nice": false, "zero": false}, "axis": null}, "y2": {"datum": -4696}}},
   {"transform": [{"filter": "datum.t == 0"}, {"fold": ["G数", "BB", "RB", "合成確率"]}, {"calculate": "indexof(['G数','BB','RB','合成確率'], datum.key)", "as": "i"}, {"calculate": "datum.i + 1", "as": "i2"}], "mark": {"type": "rect", "fill": "#ffffff", "stroke": "#b5b5b5", "strokeWidth": 1}, "encoding": {"x": {"field": "i", "type": "quantitative", "scale": {"domain": [0, 1, 2, 3, 4], "range": [0, 67, 99, 131, 218], "nice": false, "zero": false}, "axis": null}, "x2": {"field": "i2"}, "y": {"datum": -4696, "type": "quantitative", "scale": {"domain": [-5194, 5115], "nice": false, "zero": false}, "axis": null}, "y2": {"datum": -5194}}},
   {"transform": [{"filter": "datum.t == 0"}, {"fold": ["G数", "BB", "RB", "合成確率"]}, {"calculate": "indexof(['G数','BB','RB','合成確率'], datum.key) + 0.5", "as": "im"}], "mark": {"type": "text", "fill": "#ffffff", "fontSize": 10, "fontWeight": "bold"}, "encoding": {"x": {"field": "im", "type": "quantitative", "scale": {"domain": [0, 1, 2, 3, 4], "range": [0, 67, 99, 131, 218], "nice": false, "zero": false}, "axis": null}, "y": {"datum": -4448, "type": "quantitative", "scale": {"domain": [-5194, 5115], "nice": false, "zero": false}, "axis": null}, "text": {"field": "key", "type": "nominal"}}},
   {"transform": [{"filter": "datum.t == 0"}, {"fold": ["G数", "BB", "RB", "合成確率"]}, {"calculate": "indexof(['G数','BB','RB','合成確率'], datum.key) + 0.5", "as": "im"}], "mark": {"type": "text", "fill": "#444444", "fontSize": 10}, "encoding": {"x": {"field": "im", "type": "quantitative", "scale": {"domain": [0, 1, 2, 3, 4], "range": [0, 67, 99, 131, 218], "nice": false, "zero": false}, "axis": null}, "y": {"datum": -4945, "type": "quantitative", "scale": {"domain": [-5194, 5115], "nice": false, "zero": false}, "axis": null}, "text": {"field": "value", "type": "nominal"}}}
  ]}},
{"spacing": -0.5, "vconcat": [
{"data": {"name": "pts"},
 "transform": [{"lookup": "id", "from": {"data": {"name": "panels"}, "key": "id", "fields": ["name", "row", "G数", "BB", "RB", "ART", "合成確率"]}}, {"filter": "datum.row == 3"}, {"window": [{"op": "lead", "field": "t", "as": "t2"}, {"op": "lead", "field": "v", "as": "v2"}], "groupby": ["id"], "sort": [{"field": "t"}]}],
 "facet": {"column": {"field": "id", "type": "nominal", "title": null, "header": {"labels": false, "title": null}}}, "spacing": 2,
 "spec": {"width": 218, "height": 259, "view": {"fill": "#2a2a2a", "stroke": "#9a9a9a"}, "resolve": {"scale": {"x": "independent"}},
  "layer": [
   {"transform": [{"filter": "datum.t == 0"}], "mark": {"type": "point", "shape": "M-1,0L-0.55,-1L0.55,-1L1,0L0.55,1L-0.55,1Z", "size": 729, "filled": true, "fill": {"gradient": "linear", "x1": 0, "y1": 0, "x2": 0, "y2": 1, "stops": [{"offset": 0, "color": "#4a86e0"}, {"offset": 0.5, "color": "#1d3f82"}, {"offset": 1, "color": "#233a66"}]}, "stroke": "#6c6c6c", "strokeWidth": 2, "opacity": 0.8}, "encoding": {"x": {"datum": 35, "type": "quantitative", "scale": {"domain": [0, 100], "nice": false, "zero": false}, "axis": null}, "y": {"datum": 850, "type": "quantitative", "scale": {"domain": [-5194, 5115], "nice": false, "zero": false}, "axis": null}}},
   {"transform": [{"filter": "datum.t == 0"}], "mark": {"type": "text", "text": "アナスロ", "fontSize": 19, "fontWeight": "bold", "fontStyle": "italic", "fill": "#242424", "stroke": "#707070", "strokeWidth": 1}, "encoding": {"x": {"datum": 64, "type": "quantitative", "scale": {"domain": [0, 100], "nice": false, "zero": false}, "axis": null}, "y": {"datum": 900, "type": "quantitative", "scale": {"domain": [-5194, 5115], "nice": false, "zero": false}, "axis": null}}},
   {"transform": [{"filter": "datum.t == 0"}], "mark": {"type": "text", "text": "—Analysis Slot—", "fontSize": 5, "fill": "#9a9a9a"}, "encoding": {"x": {"datum": 64, "type": "quantitative", "scale": {"domain": [0, 100], "nice": false, "zero": false}, "axis": null}, "y": {"datum": 330, "type": "quantitative", "scale": {"domain": [-5194, 5115], "nice": false, "zero": false}, "axis": null}}},
   {"transform": [{"filter": "datum.t == 0"}], "mark": {"type": "rule", "color": "#8e1f1f", "strokeWidth": 1}, "encoding": {"y": {"datum": 0, "type": "quantitative", "scale": {"domain": [-5194, 5115], "nice": false, "zero": false}, "axis": null}}},
   {"transform": [{"filter": "datum.t2 != null"}], "mark": {"type": "rule", "strokeWidth": 2, "strokeCap": "round"}, "encoding": {"x": {"field": "t", "type": "quantitative", "scale": {"domain": [0, 100], "nice": false, "zero": false}, "axis": null}, "x2": {"field": "t2"}, "y": {"field": "v", "type": "quantitative", "scale": {"domain": [-5194, 5115], "nice": false, "zero": false}, "axis": {"values": [-4000, -3000, -2000, -1000, 0, 1000, 2000, 3000, 4000], "grid": true, "gridColor": "#474747", "labels": false, "ticks": false, "domain": false, "title": null}}, "y2": {"field": "v2"}, "color": {"field": "t", "type": "quantitative", "scale": {"domain": [0, 100], "range": ["#3b8f50", "#a6dc4c"]}, "legend": null}}},
   {"transform": [{"filter": "datum.t == 0"}], "mark": {"type": "text", "fill": "#ffffff", "fontSize": 10, "fontWeight": "bold"}, "encoding": {"x": {"datum": 50, "type": "quantitative", "scale": {"domain": [0, 100], "nice": false, "zero": false}, "axis": null}, "y": {"datum": 4797, "type": "quantitative", "scale": {"domain": [-5194, 5115], "nice": false, "zero": false}, "axis": null}, "text": {"field": "id", "type": "nominal"}}},
   {"transform": [{"filter": "datum.t == 0"}], "mark": {"type": "text", "fill": "#ffffff", "fontSize": 10, "fontWeight": "bold"}, "encoding": {"x": {"datum": 50, "type": "quantitative", "scale": {"domain": [0, 100], "nice": false, "zero": false}, "axis": null}, "y": {"datum": 4319, "type": "quantitative", "scale": {"domain": [-5194, 5115], "nice": false, "zero": false}, "axis": null}, "text": {"field": "name", "type": "nominal"}}},
   {"transform": [{"filter": "datum.t == 0"}, {"fold": ["G数", "BB", "RB", "ART", "合成確率"]}, {"calculate": "indexof(['G数','BB','RB','ART','合成確率'], datum.key)", "as": "i"}, {"calculate": "datum.i + 1", "as": "i2"}], "mark": {"type": "rect", "fill": "#2e2e2e", "stroke": "#7a7a7a", "strokeWidth": 1}, "encoding": {"x": {"field": "i", "type": "quantitative", "scale": {"domain": [0, 1, 2, 3, 4, 5], "range": [0, 54, 91, 114, 152, 218], "nice": false, "zero": false}, "axis": null}, "x2": {"field": "i2"}, "y": {"datum": -4199, "type": "quantitative", "scale": {"domain": [-5194, 5115], "nice": false, "zero": false}, "axis": null}, "y2": {"datum": -4696}}},
   {"transform": [{"filter": "datum.t == 0"}, {"fold": ["G数", "BB", "RB", "ART", "合成確率"]}, {"calculate": "indexof(['G数','BB','RB','ART','合成確率'], datum.key)", "as": "i"}, {"calculate": "datum.i + 1", "as": "i2"}], "mark": {"type": "rect", "fill": "#ffffff", "stroke": "#b5b5b5", "strokeWidth": 1}, "encoding": {"x": {"field": "i", "type": "quantitative", "scale": {"domain": [0, 1, 2, 3, 4, 5], "range": [0, 54, 91, 114, 152, 218], "nice": false, "zero": false}, "axis": null}, "x2": {"field": "i2"}, "y": {"datum": -4696, "type": "quantitative", "scale": {"domain": [-5194, 5115], "nice": false, "zero": false}, "axis": null}, "y2": {"datum": -5194}}},
   {"transform": [{"filter": "datum.t == 0"}, {"fold": ["G数", "BB", "RB", "ART", "合成確率"]}, {"calculate": "indexof(['G数','BB','RB','ART','合成確率'], datum.key) + 0.5", "as": "im"}], "mark": {"type": "text", "fill": "#ffffff", "fontSize": 10, "fontWeight": "bold"}, "encoding": {"x": {"field": "im", "type": "quantitative", "scale": {"domain": [0, 1, 2, 3, 4, 5], "range": [0, 54, 91, 114, 152, 218], "nice": false, "zero": false}, "axis": null}, "y": {"datum": -4448, "type": "quantitative", "scale": {"domain": [-5194, 5115], "nice": false, "zero": false}, "axis": null}, "text": {"field": "key", "type": "nominal"}}},
   {"transform": [{"filter": "datum.t == 0"}, {"fold": ["G数", "BB", "RB", "ART", "合成確率"]}, {"calculate": "indexof(['G数','BB','RB','ART','合成確率'], datum.key) + 0.5", "as": "im"}], "mark": {"type": "text", "fill": "#444444", "fontSize": 10}, "encoding": {"x": {"field": "im", "type": "quantitative", "scale": {"domain": [0, 1, 2, 3, 4, 5], "range": [0, 54, 91, 114, 152, 218], "nice": false, "zero": false}, "axis": null}, "y": {"datum": -4945, "type": "quantitative", "scale": {"domain": [-5194, 5115], "nice": false, "zero": false}, "axis": null}, "text": {"field": "value", "type": "nominal"}}}
  ]}},
{"data": {"name": "pts"},
 "transform": [{"lookup": "id", "from": {"data": {"name": "panels"}, "key": "id", "fields": ["name", "row", "G数", "BB", "RB", "ART", "合成確率"]}}, {"filter": "datum.row == 4"}, {"window": [{"op": "lead", "field": "t", "as": "t2"}, {"op": "lead", "field": "v", "as": "v2"}], "groupby": ["id"], "sort": [{"field": "t"}]}],
 "facet": {"column": {"field": "id", "type": "nominal", "title": null, "header": {"labels": false, "title": null}}}, "spacing": 2,
 "spec": {"width": 218, "height": 259, "view": {"fill": "#2a2a2a", "stroke": "#9a9a9a"}, "resolve": {"scale": {"x": "independent"}},
  "layer": [
   {"transform": [{"filter": "datum.t == 0"}], "mark": {"type": "point", "shape": "M-1,0L-0.55,-1L0.55,-1L1,0L0.55,1L-0.55,1Z", "size": 729, "filled": true, "fill": {"gradient": "linear", "x1": 0, "y1": 0, "x2": 0, "y2": 1, "stops": [{"offset": 0, "color": "#4a86e0"}, {"offset": 0.5, "color": "#1d3f82"}, {"offset": 1, "color": "#233a66"}]}, "stroke": "#6c6c6c", "strokeWidth": 2, "opacity": 0.8}, "encoding": {"x": {"datum": 35, "type": "quantitative", "scale": {"domain": [0, 100], "nice": false, "zero": false}, "axis": null}, "y": {"datum": 850, "type": "quantitative", "scale": {"domain": [-5194, 5115], "nice": false, "zero": false}, "axis": null}}},
   {"transform": [{"filter": "datum.t == 0"}], "mark": {"type": "text", "text": "アナスロ", "fontSize": 19, "fontWeight": "bold", "fontStyle": "italic", "fill": "#242424", "stroke": "#707070", "strokeWidth": 1}, "encoding": {"x": {"datum": 64, "type": "quantitative", "scale": {"domain": [0, 100], "nice": false, "zero": false}, "axis": null}, "y": {"datum": 900, "type": "quantitative", "scale": {"domain": [-5194, 5115], "nice": false, "zero": false}, "axis": null}}},
   {"transform": [{"filter": "datum.t == 0"}], "mark": {"type": "text", "text": "—Analysis Slot—", "fontSize": 5, "fill": "#9a9a9a"}, "encoding": {"x": {"datum": 64, "type": "quantitative", "scale": {"domain": [0, 100], "nice": false, "zero": false}, "axis": null}, "y": {"datum": 330, "type": "quantitative", "scale": {"domain": [-5194, 5115], "nice": false, "zero": false}, "axis": null}}},
   {"transform": [{"filter": "datum.t == 0"}], "mark": {"type": "rule", "color": "#8e1f1f", "strokeWidth": 1}, "encoding": {"y": {"datum": 0, "type": "quantitative", "scale": {"domain": [-5194, 5115], "nice": false, "zero": false}, "axis": null}}},
   {"transform": [{"filter": "datum.t2 != null"}], "mark": {"type": "rule", "strokeWidth": 2, "strokeCap": "round"}, "encoding": {"x": {"field": "t", "type": "quantitative", "scale": {"domain": [0, 100], "nice": false, "zero": false}, "axis": null}, "x2": {"field": "t2"}, "y": {"field": "v", "type": "quantitative", "scale": {"domain": [-5194, 5115], "nice": false, "zero": false}, "axis": {"values": [-4000, -3000, -2000, -1000, 0, 1000, 2000, 3000, 4000], "grid": true, "gridColor": "#474747", "labels": false, "ticks": false, "domain": false, "title": null}}, "y2": {"field": "v2"}, "color": {"field": "t", "type": "quantitative", "scale": {"domain": [0, 100], "range": ["#3b8f50", "#a6dc4c"]}, "legend": null}}},
   {"transform": [{"filter": "datum.t == 0"}], "mark": {"type": "text", "fill": "#ffffff", "fontSize": 10, "fontWeight": "bold"}, "encoding": {"x": {"datum": 50, "type": "quantitative", "scale": {"domain": [0, 100], "nice": false, "zero": false}, "axis": null}, "y": {"datum": 4797, "type": "quantitative", "scale": {"domain": [-5194, 5115], "nice": false, "zero": false}, "axis": null}, "text": {"field": "id", "type": "nominal"}}},
   {"transform": [{"filter": "datum.t == 0"}], "mark": {"type": "text", "fill": "#ffffff", "fontSize": 10, "fontWeight": "bold"}, "encoding": {"x": {"datum": 50, "type": "quantitative", "scale": {"domain": [0, 100], "nice": false, "zero": false}, "axis": null}, "y": {"datum": 4319, "type": "quantitative", "scale": {"domain": [-5194, 5115], "nice": false, "zero": false}, "axis": null}, "text": {"field": "name", "type": "nominal"}}},
   {"transform": [{"filter": "datum.t == 0"}, {"fold": ["G数", "BB", "RB", "ART", "合成確率"]}, {"calculate": "indexof(['G数','BB','RB','ART','合成確率'], datum.key)", "as": "i"}, {"calculate": "datum.i + 1", "as": "i2"}], "mark": {"type": "rect", "fill": "#2e2e2e", "stroke": "#7a7a7a", "strokeWidth": 1}, "encoding": {"x": {"field": "i", "type": "quantitative", "scale": {"domain": [0, 1, 2, 3, 4, 5], "range": [0, 54, 91, 114, 152, 218], "nice": false, "zero": false}, "axis": null}, "x2": {"field": "i2"}, "y": {"datum": -4199, "type": "quantitative", "scale": {"domain": [-5194, 5115], "nice": false, "zero": false}, "axis": null}, "y2": {"datum": -4696}}},
   {"transform": [{"filter": "datum.t == 0"}, {"fold": ["G数", "BB", "RB", "ART", "合成確率"]}, {"calculate": "indexof(['G数','BB','RB','ART','合成確率'], datum.key)", "as": "i"}, {"calculate": "datum.i + 1", "as": "i2"}], "mark": {"type": "rect", "fill": "#ffffff", "stroke": "#b5b5b5", "strokeWidth": 1}, "encoding": {"x": {"field": "i", "type": "quantitative", "scale": {"domain": [0, 1, 2, 3, 4, 5], "range": [0, 54, 91, 114, 152, 218], "nice": false, "zero": false}, "axis": null}, "x2": {"field": "i2"}, "y": {"datum": -4696, "type": "quantitative", "scale": {"domain": [-5194, 5115], "nice": false, "zero": false}, "axis": null}, "y2": {"datum": -5194}}},
   {"transform": [{"filter": "datum.t == 0"}, {"fold": ["G数", "BB", "RB", "ART", "合成確率"]}, {"calculate": "indexof(['G数','BB','RB','ART','合成確率'], datum.key) + 0.5", "as": "im"}], "mark": {"type": "text", "fill": "#ffffff", "fontSize": 10, "fontWeight": "bold"}, "encoding": {"x": {"field": "im", "type": "quantitative", "scale": {"domain": [0, 1, 2, 3, 4, 5], "range": [0, 54, 91, 114, 152, 218], "nice": false, "zero": false}, "axis": null}, "y": {"datum": -4448, "type": "quantitative", "scale": {"domain": [-5194, 5115], "nice": false, "zero": false}, "axis": null}, "text": {"field": "key", "type": "nominal"}}},
   {"transform": [{"filter": "datum.t == 0"}, {"fold": ["G数", "BB", "RB", "ART", "合成確率"]}, {"calculate": "indexof(['G数','BB','RB','ART','合成確率'], datum.key) + 0.5", "as": "im"}], "mark": {"type": "text", "fill": "#444444", "fontSize": 10}, "encoding": {"x": {"field": "im", "type": "quantitative", "scale": {"domain": [0, 1, 2, 3, 4, 5], "range": [0, 54, 91, 114, 152, 218], "nice": false, "zero": false}, "axis": null}, "y": {"datum": -4945, "type": "quantitative", "scale": {"domain": [-5194, 5115], "nice": false, "zero": false}, "axis": null}, "text": {"field": "value", "type": "nominal"}}}
  ]}}
]},
{"data": {"name": "pts"},
 "transform": [{"lookup": "id", "from": {"data": {"name": "panels"}, "key": "id", "fields": ["name", "row", "G数", "BB", "RB", "ART", "合成確率"]}}, {"filter": "datum.row == 5"}, {"window": [{"op": "lead", "field": "t", "as": "t2"}, {"op": "lead", "field": "v", "as": "v2"}], "groupby": ["id"], "sort": [{"field": "t"}]}],
 "facet": {"column": {"field": "id", "type": "nominal", "title": null, "header": {"labels": false, "title": null}}}, "spacing": 2,
 "spec": {"width": 218, "height": 259, "view": {"fill": "#2a2a2a", "stroke": "#9a9a9a"}, "resolve": {"scale": {"x": "independent"}},
  "layer": [
   {"transform": [{"filter": "datum.t == 0"}], "mark": {"type": "point", "shape": "M-1,0L-0.55,-1L0.55,-1L1,0L0.55,1L-0.55,1Z", "size": 729, "filled": true, "fill": {"gradient": "linear", "x1": 0, "y1": 0, "x2": 0, "y2": 1, "stops": [{"offset": 0, "color": "#4a86e0"}, {"offset": 0.5, "color": "#1d3f82"}, {"offset": 1, "color": "#233a66"}]}, "stroke": "#6c6c6c", "strokeWidth": 2, "opacity": 0.8}, "encoding": {"x": {"datum": 35, "type": "quantitative", "scale": {"domain": [0, 100], "nice": false, "zero": false}, "axis": null}, "y": {"datum": 850, "type": "quantitative", "scale": {"domain": [-5194, 5115], "nice": false, "zero": false}, "axis": null}}},
   {"transform": [{"filter": "datum.t == 0"}], "mark": {"type": "text", "text": "アナスロ", "fontSize": 19, "fontWeight": "bold", "fontStyle": "italic", "fill": "#242424", "stroke": "#707070", "strokeWidth": 1}, "encoding": {"x": {"datum": 64, "type": "quantitative", "scale": {"domain": [0, 100], "nice": false, "zero": false}, "axis": null}, "y": {"datum": 900, "type": "quantitative", "scale": {"domain": [-5194, 5115], "nice": false, "zero": false}, "axis": null}}},
   {"transform": [{"filter": "datum.t == 0"}], "mark": {"type": "text", "text": "—Analysis Slot—", "fontSize": 5, "fill": "#9a9a9a"}, "encoding": {"x": {"datum": 64, "type": "quantitative", "scale": {"domain": [0, 100], "nice": false, "zero": false}, "axis": null}, "y": {"datum": 330, "type": "quantitative", "scale": {"domain": [-5194, 5115], "nice": false, "zero": false}, "axis": null}}},
   {"transform": [{"filter": "datum.t == 0"}], "mark": {"type": "rule", "color": "#8e1f1f", "strokeWidth": 1}, "encoding": {"y": {"datum": 0, "type": "quantitative", "scale": {"domain": [-5194, 5115], "nice": false, "zero": false}, "axis": null}}},
   {"transform": [{"filter": "datum.t2 != null"}], "mark": {"type": "rule", "strokeWidth": 2, "strokeCap": "round"}, "encoding": {"x": {"field": "t", "type": "quantitative", "scale": {"domain": [0, 100], "nice": false, "zero": false}, "axis": null}, "x2": {"field": "t2"}, "y": {"field": "v", "type": "quantitative", "scale": {"domain": [-5194, 5115], "nice": false, "zero": false}, "axis": {"values": [-4000, -3000, -2000, -1000, 0, 1000, 2000, 3000, 4000], "grid": true, "gridColor": "#474747", "labels": false, "ticks": false, "domain": false, "title": null}}, "y2": {"field": "v2"}, "color": {"field": "t", "type": "quantitative", "scale": {"domain": [0, 100], "range": ["#3b8f50", "#a6dc4c"]}, "legend": null}}},
   {"transform": [{"filter": "datum.t == 0"}], "mark": {"type": "text", "fill": "#ffffff", "fontSize": 10, "fontWeight": "bold"}, "encoding": {"x": {"datum": 50, "type": "quantitative", "scale": {"domain": [0, 100], "nice": false, "zero": false}, "axis": null}, "y": {"datum": 4797, "type": "quantitative", "scale": {"domain": [-5194, 5115], "nice": false, "zero": false}, "axis": null}, "text": {"field": "id", "type": "nominal"}}},
   {"transform": [{"filter": "datum.t == 0"}], "mark": {"type": "text", "fill": "#ffffff", "fontSize": 10, "fontWeight": "bold"}, "encoding": {"x": {"datum": 50, "type": "quantitative", "scale": {"domain": [0, 100], "nice": false, "zero": false}, "axis": null}, "y": {"datum": 4319, "type": "quantitative", "scale": {"domain": [-5194, 5115], "nice": false, "zero": false}, "axis": null}, "text": {"field": "name", "type": "nominal"}}},
   {"transform": [{"filter": "datum.t == 0"}, {"fold": ["G数", "BB", "RB", "ART", "合成確率"]}, {"calculate": "indexof(['G数','BB','RB','ART','合成確率'], datum.key)", "as": "i"}, {"calculate": "datum.i + 1", "as": "i2"}], "mark": {"type": "rect", "fill": "#2e2e2e", "stroke": "#7a7a7a", "strokeWidth": 1}, "encoding": {"x": {"field": "i", "type": "quantitative", "scale": {"domain": [0, 1, 2, 3, 4, 5], "range": [0, 54, 91, 114, 152, 218], "nice": false, "zero": false}, "axis": null}, "x2": {"field": "i2"}, "y": {"datum": -4199, "type": "quantitative", "scale": {"domain": [-5194, 5115], "nice": false, "zero": false}, "axis": null}, "y2": {"datum": -4696}}},
   {"transform": [{"filter": "datum.t == 0"}, {"fold": ["G数", "BB", "RB", "ART", "合成確率"]}, {"calculate": "indexof(['G数','BB','RB','ART','合成確率'], datum.key)", "as": "i"}, {"calculate": "datum.i + 1", "as": "i2"}], "mark": {"type": "rect", "fill": "#ffffff", "stroke": "#b5b5b5", "strokeWidth": 1}, "encoding": {"x": {"field": "i", "type": "quantitative", "scale": {"domain": [0, 1, 2, 3, 4, 5], "range": [0, 54, 91, 114, 152, 218], "nice": false, "zero": false}, "axis": null}, "x2": {"field": "i2"}, "y": {"datum": -4696, "type": "quantitative", "scale": {"domain": [-5194, 5115], "nice": false, "zero": false}, "axis": null}, "y2": {"datum": -5194}}},
   {"transform": [{"filter": "datum.t == 0"}, {"fold": ["G数", "BB", "RB", "ART", "合成確率"]}, {"calculate": "indexof(['G数','BB','RB','ART','合成確率'], datum.key) + 0.5", "as": "im"}], "mark": {"type": "text", "fill": "#ffffff", "fontSize": 10, "fontWeight": "bold"}, "encoding": {"x": {"field": "im", "type": "quantitative", "scale": {"domain": [0, 1, 2, 3, 4, 5], "range": [0, 54, 91, 114, 152, 218], "nice": false, "zero": false}, "axis": null}, "y": {"datum": -4448, "type": "quantitative", "scale": {"domain": [-5194, 5115], "nice": false, "zero": false}, "axis": null}, "text": {"field": "key", "type": "nominal"}}},
   {"transform": [{"filter": "datum.t == 0"}, {"fold": ["G数", "BB", "RB", "ART", "合成確率"]}, {"calculate": "indexof(['G数','BB','RB','ART','合成確率'], datum.key) + 0.5", "as": "im"}], "mark": {"type": "text", "fill": "#444444", "fontSize": 10}, "encoding": {"x": {"field": "im", "type": "quantitative", "scale": {"domain": [0, 1, 2, 3, 4, 5], "range": [0, 54, 91, 114, 152, 218], "nice": false, "zero": false}, "axis": null}, "y": {"datum": -4945, "type": "quantitative", "scale": {"domain": [-5194, 5115], "nice": false, "zero": false}, "axis": null}, "text": {"field": "value", "type": "nominal"}}}
  ]}},
{"spacing": -0.5, "vconcat": [
{"data": {"name": "pts"},
 "transform": [{"lookup": "id", "from": {"data": {"name": "panels"}, "key": "id", "fields": ["name", "row", "G数", "BB", "RB", "ART", "合成確率"]}}, {"filter": "datum.row == 6"}, {"window": [{"op": "lead", "field": "t", "as": "t2"}, {"op": "lead", "field": "v", "as": "v2"}], "groupby": ["id"], "sort": [{"field": "t"}]}],
 "facet": {"column": {"field": "id", "type": "nominal", "title": null, "header": {"labels": false, "title": null}}}, "spacing": 2,
 "spec": {"width": 218, "height": 259, "view": {"fill": "#2a2a2a", "stroke": "#9a9a9a"}, "resolve": {"scale": {"x": "independent"}},
  "layer": [
   {"transform": [{"filter": "datum.t == 0"}], "mark": {"type": "point", "shape": "M-1,0L-0.55,-1L0.55,-1L1,0L0.55,1L-0.55,1Z", "size": 729, "filled": true, "fill": {"gradient": "linear", "x1": 0, "y1": 0, "x2": 0, "y2": 1, "stops": [{"offset": 0, "color": "#4a86e0"}, {"offset": 0.5, "color": "#1d3f82"}, {"offset": 1, "color": "#233a66"}]}, "stroke": "#6c6c6c", "strokeWidth": 2, "opacity": 0.8}, "encoding": {"x": {"datum": 35, "type": "quantitative", "scale": {"domain": [0, 100], "nice": false, "zero": false}, "axis": null}, "y": {"datum": 850, "type": "quantitative", "scale": {"domain": [-5194, 5115], "nice": false, "zero": false}, "axis": null}}},
   {"transform": [{"filter": "datum.t == 0"}], "mark": {"type": "text", "text": "アナスロ", "fontSize": 19, "fontWeight": "bold", "fontStyle": "italic", "fill": "#242424", "stroke": "#707070", "strokeWidth": 1}, "encoding": {"x": {"datum": 64, "type": "quantitative", "scale": {"domain": [0, 100], "nice": false, "zero": false}, "axis": null}, "y": {"datum": 900, "type": "quantitative", "scale": {"domain": [-5194, 5115], "nice": false, "zero": false}, "axis": null}}},
   {"transform": [{"filter": "datum.t == 0"}], "mark": {"type": "text", "text": "—Analysis Slot—", "fontSize": 5, "fill": "#9a9a9a"}, "encoding": {"x": {"datum": 64, "type": "quantitative", "scale": {"domain": [0, 100], "nice": false, "zero": false}, "axis": null}, "y": {"datum": 330, "type": "quantitative", "scale": {"domain": [-5194, 5115], "nice": false, "zero": false}, "axis": null}}},
   {"transform": [{"filter": "datum.t == 0"}], "mark": {"type": "rule", "color": "#8e1f1f", "strokeWidth": 1}, "encoding": {"y": {"datum": 0, "type": "quantitative", "scale": {"domain": [-5194, 5115], "nice": false, "zero": false}, "axis": null}}},
   {"transform": [{"filter": "datum.t2 != null"}], "mark": {"type": "rule", "strokeWidth": 2, "strokeCap": "round"}, "encoding": {"x": {"field": "t", "type": "quantitative", "scale": {"domain": [0, 100], "nice": false, "zero": false}, "axis": null}, "x2": {"field": "t2"}, "y": {"field": "v", "type": "quantitative", "scale": {"domain": [-5194, 5115], "nice": false, "zero": false}, "axis": {"values": [-4000, -3000, -2000, -1000, 0, 1000, 2000, 3000, 4000], "grid": true, "gridColor": "#474747", "labels": false, "ticks": false, "domain": false, "title": null}}, "y2": {"field": "v2"}, "color": {"field": "t", "type": "quantitative", "scale": {"domain": [0, 100], "range": ["#3b8f50", "#a6dc4c"]}, "legend": null}}},
   {"transform": [{"filter": "datum.t == 0"}], "mark": {"type": "text", "fill": "#ffffff", "fontSize": 10, "fontWeight": "bold"}, "encoding": {"x": {"datum": 50, "type": "quantitative", "scale": {"domain": [0, 100], "nice": false, "zero": false}, "axis": null}, "y": {"datum": 4797, "type": "quantitative", "scale": {"domain": [-5194, 5115], "nice": false, "zero": false}, "axis": null}, "text": {"field": "id", "type": "nominal"}}},
   {"transform": [{"filter": "datum.t == 0"}], "mark": {"type": "text", "fill": "#ffffff", "fontSize": 10, "fontWeight": "bold"}, "encoding": {"x": {"datum": 50, "type": "quantitative", "scale": {"domain": [0, 100], "nice": false, "zero": false}, "axis": null}, "y": {"datum": 4319, "type": "quantitative", "scale": {"domain": [-5194, 5115], "nice": false, "zero": false}, "axis": null}, "text": {"field": "name", "type": "nominal"}}},
   {"transform": [{"filter": "datum.t == 0"}, {"fold": ["G数", "BB", "RB", "合成確率"]}, {"calculate": "indexof(['G数','BB','RB','合成確率'], datum.key)", "as": "i"}, {"calculate": "datum.i + 1", "as": "i2"}], "mark": {"type": "rect", "fill": "#2e2e2e", "stroke": "#7a7a7a", "strokeWidth": 1}, "encoding": {"x": {"field": "i", "type": "quantitative", "scale": {"domain": [0, 1, 2, 3, 4], "range": [0, 67, 99, 131, 218], "nice": false, "zero": false}, "axis": null}, "x2": {"field": "i2"}, "y": {"datum": -4199, "type": "quantitative", "scale": {"domain": [-5194, 5115], "nice": false, "zero": false}, "axis": null}, "y2": {"datum": -4696}}},
   {"transform": [{"filter": "datum.t == 0"}, {"fold": ["G数", "BB", "RB", "合成確率"]}, {"calculate": "indexof(['G数','BB','RB','合成確率'], datum.key)", "as": "i"}, {"calculate": "datum.i + 1", "as": "i2"}], "mark": {"type": "rect", "fill": "#ffffff", "stroke": "#b5b5b5", "strokeWidth": 1}, "encoding": {"x": {"field": "i", "type": "quantitative", "scale": {"domain": [0, 1, 2, 3, 4], "range": [0, 67, 99, 131, 218], "nice": false, "zero": false}, "axis": null}, "x2": {"field": "i2"}, "y": {"datum": -4696, "type": "quantitative", "scale": {"domain": [-5194, 5115], "nice": false, "zero": false}, "axis": null}, "y2": {"datum": -5194}}},
   {"transform": [{"filter": "datum.t == 0"}, {"fold": ["G数", "BB", "RB", "合成確率"]}, {"calculate": "indexof(['G数','BB','RB','合成確率'], datum.key) + 0.5", "as": "im"}], "mark": {"type": "text", "fill": "#ffffff", "fontSize": 10, "fontWeight": "bold"}, "encoding": {"x": {"field": "im", "type": "quantitative", "scale": {"domain": [0, 1, 2, 3, 4], "range": [0, 67, 99, 131, 218], "nice": false, "zero": false}, "axis": null}, "y": {"datum": -4448, "type": "quantitative", "scale": {"domain": [-5194, 5115], "nice": false, "zero": false}, "axis": null}, "text": {"field": "key", "type": "nominal"}}},
   {"transform": [{"filter": "datum.t == 0"}, {"fold": ["G数", "BB", "RB", "合成確率"]}, {"calculate": "indexof(['G数','BB','RB','合成確率'], datum.key) + 0.5", "as": "im"}], "mark": {"type": "text", "fill": "#444444", "fontSize": 10}, "encoding": {"x": {"field": "im", "type": "quantitative", "scale": {"domain": [0, 1, 2, 3, 4], "range": [0, 67, 99, 131, 218], "nice": false, "zero": false}, "axis": null}, "y": {"datum": -4945, "type": "quantitative", "scale": {"domain": [-5194, 5115], "nice": false, "zero": false}, "axis": null}, "text": {"field": "value", "type": "nominal"}}}
  ]}},
{"data": {"name": "pts"},
 "transform": [{"lookup": "id", "from": {"data": {"name": "panels"}, "key": "id", "fields": ["name", "row", "G数", "BB", "RB", "ART", "合成確率"]}}, {"filter": "datum.row == 7"}, {"window": [{"op": "lead", "field": "t", "as": "t2"}, {"op": "lead", "field": "v", "as": "v2"}], "groupby": ["id"], "sort": [{"field": "t"}]}],
 "facet": {"column": {"field": "id", "type": "nominal", "title": null, "header": {"labels": false, "title": null}}}, "spacing": 2,
 "spec": {"width": 218, "height": 259, "view": {"fill": "#2a2a2a", "stroke": "#9a9a9a"}, "resolve": {"scale": {"x": "independent"}},
  "layer": [
   {"transform": [{"filter": "datum.t == 0"}], "mark": {"type": "point", "shape": "M-1,0L-0.55,-1L0.55,-1L1,0L0.55,1L-0.55,1Z", "size": 729, "filled": true, "fill": {"gradient": "linear", "x1": 0, "y1": 0, "x2": 0, "y2": 1, "stops": [{"offset": 0, "color": "#4a86e0"}, {"offset": 0.5, "color": "#1d3f82"}, {"offset": 1, "color": "#233a66"}]}, "stroke": "#6c6c6c", "strokeWidth": 2, "opacity": 0.8}, "encoding": {"x": {"datum": 35, "type": "quantitative", "scale": {"domain": [0, 100], "nice": false, "zero": false}, "axis": null}, "y": {"datum": 850, "type": "quantitative", "scale": {"domain": [-5194, 5115], "nice": false, "zero": false}, "axis": null}}},
   {"transform": [{"filter": "datum.t == 0"}], "mark": {"type": "text", "text": "アナスロ", "fontSize": 19, "fontWeight": "bold", "fontStyle": "italic", "fill": "#242424", "stroke": "#707070", "strokeWidth": 1}, "encoding": {"x": {"datum": 64, "type": "quantitative", "scale": {"domain": [0, 100], "nice": false, "zero": false}, "axis": null}, "y": {"datum": 900, "type": "quantitative", "scale": {"domain": [-5194, 5115], "nice": false, "zero": false}, "axis": null}}},
   {"transform": [{"filter": "datum.t == 0"}], "mark": {"type": "text", "text": "—Analysis Slot—", "fontSize": 5, "fill": "#9a9a9a"}, "encoding": {"x": {"datum": 64, "type": "quantitative", "scale": {"domain": [0, 100], "nice": false, "zero": false}, "axis": null}, "y": {"datum": 330, "type": "quantitative", "scale": {"domain": [-5194, 5115], "nice": false, "zero": false}, "axis": null}}},
   {"transform": [{"filter": "datum.t == 0"}], "mark": {"type": "rule", "color": "#8e1f1f", "strokeWidth": 1}, "encoding": {"y": {"datum": 0, "type": "quantitative", "scale": {"domain": [-5194, 5115], "nice": false, "zero": false}, "axis": null}}},
   {"transform": [{"filter": "datum.t2 != null"}], "mark": {"type": "rule", "strokeWidth": 2, "strokeCap": "round"}, "encoding": {"x": {"field": "t", "type": "quantitative", "scale": {"domain": [0, 100], "nice": false, "zero": false}, "axis": null}, "x2": {"field": "t2"}, "y": {"field": "v", "type": "quantitative", "scale": {"domain": [-5194, 5115], "nice": false, "zero": false}, "axis": {"values": [-4000, -3000, -2000, -1000, 0, 1000, 2000, 3000, 4000], "grid": true, "gridColor": "#474747", "labels": false, "ticks": false, "domain": false, "title": null}}, "y2": {"field": "v2"}, "color": {"field": "t", "type": "quantitative", "scale": {"domain": [0, 100], "range": ["#3b8f50", "#a6dc4c"]}, "legend": null}}},
   {"transform": [{"filter": "datum.t == 0"}], "mark": {"type": "text", "fill": "#ffffff", "fontSize": 10, "fontWeight": "bold"}, "encoding": {"x": {"datum": 50, "type": "quantitative", "scale": {"domain": [0, 100], "nice": false, "zero": false}, "axis": null}, "y": {"datum": 4797, "type": "quantitative", "scale": {"domain": [-5194, 5115], "nice": false, "zero": false}, "axis": null}, "text": {"field": "id", "type": "nominal"}}},
   {"transform": [{"filter": "datum.t == 0"}], "mark": {"type": "text", "fill": "#ffffff", "fontSize": 10, "fontWeight": "bold"}, "encoding": {"x": {"datum": 50, "type": "quantitative", "scale": {"domain": [0, 100], "nice": false, "zero": false}, "axis": null}, "y": {"datum": 4319, "type": "quantitative", "scale": {"domain": [-5194, 5115], "nice": false, "zero": false}, "axis": null}, "text": {"field": "name", "type": "nominal"}}},
   {"transform": [{"filter": "datum.t == 0"}, {"fold": ["G数", "BB", "RB", "合成確率"]}, {"calculate": "indexof(['G数','BB','RB','合成確率'], datum.key)", "as": "i"}, {"calculate": "datum.i + 1", "as": "i2"}], "mark": {"type": "rect", "fill": "#2e2e2e", "stroke": "#7a7a7a", "strokeWidth": 1}, "encoding": {"x": {"field": "i", "type": "quantitative", "scale": {"domain": [0, 1, 2, 3, 4], "range": [0, 67, 99, 131, 218], "nice": false, "zero": false}, "axis": null}, "x2": {"field": "i2"}, "y": {"datum": -4199, "type": "quantitative", "scale": {"domain": [-5194, 5115], "nice": false, "zero": false}, "axis": null}, "y2": {"datum": -4696}}},
   {"transform": [{"filter": "datum.t == 0"}, {"fold": ["G数", "BB", "RB", "合成確率"]}, {"calculate": "indexof(['G数','BB','RB','合成確率'], datum.key)", "as": "i"}, {"calculate": "datum.i + 1", "as": "i2"}], "mark": {"type": "rect", "fill": "#ffffff", "stroke": "#b5b5b5", "strokeWidth": 1}, "encoding": {"x": {"field": "i", "type": "quantitative", "scale": {"domain": [0, 1, 2, 3, 4], "range": [0, 67, 99, 131, 218], "nice": false, "zero": false}, "axis": null}, "x2": {"field": "i2"}, "y": {"datum": -4696, "type": "quantitative", "scale": {"domain": [-5194, 5115], "nice": false, "zero": false}, "axis": null}, "y2": {"datum": -5194}}},
   {"transform": [{"filter": "datum.t == 0"}, {"fold": ["G数", "BB", "RB", "合成確率"]}, {"calculate": "indexof(['G数','BB','RB','合成確率'], datum.key) + 0.5", "as": "im"}], "mark": {"type": "text", "fill": "#ffffff", "fontSize": 10, "fontWeight": "bold"}, "encoding": {"x": {"field": "im", "type": "quantitative", "scale": {"domain": [0, 1, 2, 3, 4], "range": [0, 67, 99, 131, 218], "nice": false, "zero": false}, "axis": null}, "y": {"datum": -4448, "type": "quantitative", "scale": {"domain": [-5194, 5115], "nice": false, "zero": false}, "axis": null}, "text": {"field": "key", "type": "nominal"}}},
   {"transform": [{"filter": "datum.t == 0"}, {"fold": ["G数", "BB", "RB", "合成確率"]}, {"calculate": "indexof(['G数','BB','RB','合成確率'], datum.key) + 0.5", "as": "im"}], "mark": {"type": "text", "fill": "#444444", "fontSize": 10}, "encoding": {"x": {"field": "im", "type": "quantitative", "scale": {"domain": [0, 1, 2, 3, 4], "range": [0, 67, 99, 131, 218], "nice": false, "zero": false}, "axis": null}, "y": {"datum": -4945, "type": "quantitative", "scale": {"domain": [-5194, 5115], "nice": false, "zero": false}, "axis": null}, "text": {"field": "value", "type": "nominal"}}}
  ]}}
]}
]
}
